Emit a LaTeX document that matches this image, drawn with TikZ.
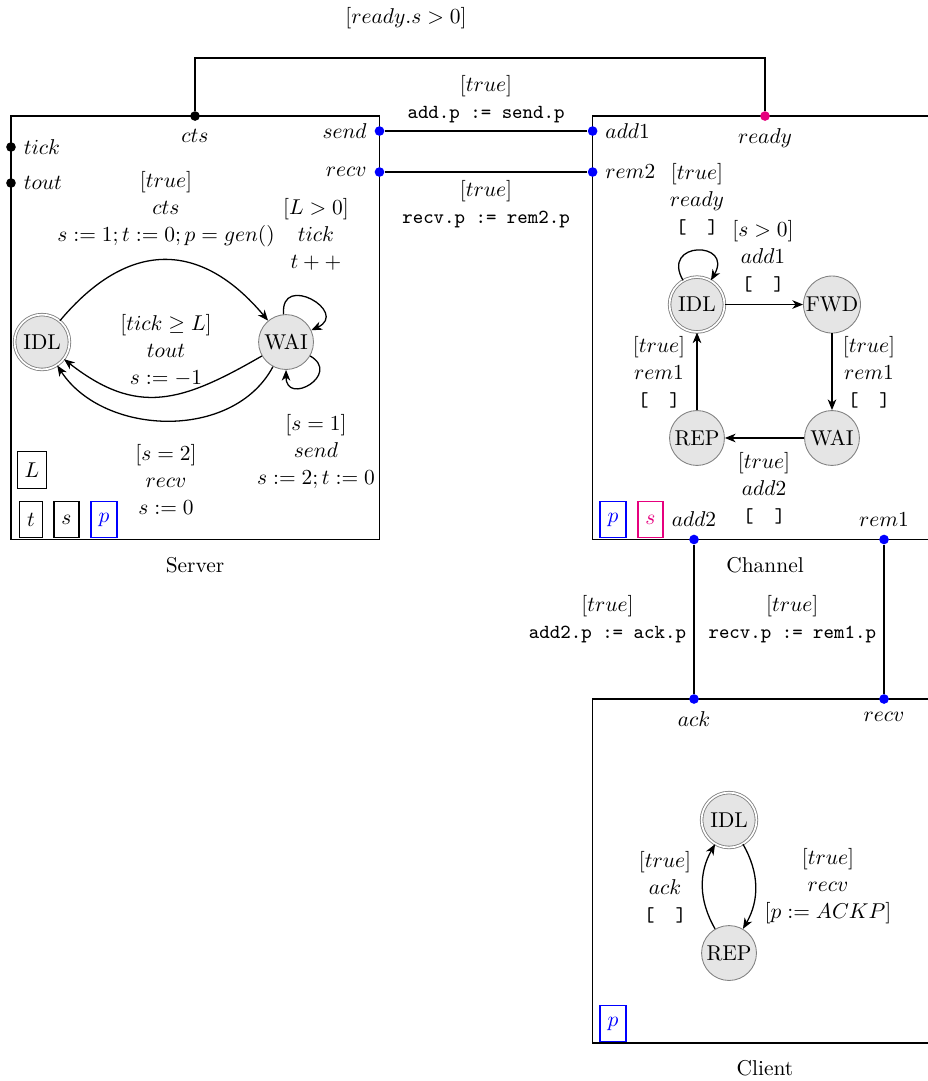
\documentclass[tikz,border=0pt]{standalone}
\usepackage{amsmath,amssymb}
\usepackage{xcolor}
\usetikzlibrary{arrows.meta,positioning}

\definecolor{readypink}{RGB}{230,0,126}
\newcommand{\code}[1]{{\fontsize{9.3}{11}\selectfont\texttt{#1}}}

\tikzset{
  state/.style={circle, draw=gray, fill=gray!20, minimum size=0.9cm, inner sep=0.5pt},
  init/.style={state, double=white, double distance=0.8pt},
  trans/.style={semithick, -{Stealth[length=5pt,width=4pt,inset=1.5pt]}},
  port/.style={circle, fill, inner sep=0pt, minimum size=4.5pt},
  bport/.style={port, fill=blue},
  var/.style={draw, semithick, inner xsep=3.5pt, inner ysep=0pt, minimum height=0.6cm},
  lbl/.style={align=center, font={\fontsize{10}{12.6}\selectfont}},
  comp/.style={thick},
  wire/.style={thick}
}

\begin{document}
\begin{tikzpicture}
  % page is 928x1081 px at 61 px/cm, channel and client run past the right edge
  \clip (0,0) rectangle (15.213,-17.721);

  % component boxes
  \draw[comp] (0.180,-1.902) rectangle (6.221,-8.844);
  \draw[comp] (9.715,-1.902) rectangle (15.36,-8.844);
  \draw[comp] (9.715,-11.459) rectangle (15.36,-17.098);
  \node (srvname) at (3.197,-9.262) {Server};
  \node (chname) at (12.541,-9.262) {Channel};
  \node (clname) at (12.541,-17.508) {Client};

  % ports of the server
  \node[port, label={below:$cts$}] (cts) at (3.197,-1.902) {};
  \node[port, label={right:$tick$}] (tick) at (0.180,-2.410) {};
  \node[port, label={right:$tout$}] (tout) at (0.180,-3.000) {};
  \node[bport, label={left:$send$}] (send) at (6.221,-2.148) {};
  \node[bport, label={left:$recv$}] (srecv) at (6.221,-2.820) {};
  % ports of the channel
  \node[bport, label={right:$add1$}] (add1) at (9.715,-2.148) {};
  \node[bport, label={right:$rem2$}] (rem2) at (9.715,-2.820) {};
  \node[port, fill=readypink, label={below:$ready$}] (ready) at (12.541,-1.902) {};
  \node[bport, label={above:$add2$}] (add2) at (11.377,-8.844) {};
  \node[bport, label={above:$rem1$}] (rem1) at (14.492,-8.844) {};
  % ports of the client
  \node[bport, label={below:$ack$}] (ack) at (11.377,-11.459) {};
  \node[bport, label={below:$recv$}] (crecv) at (14.492,-11.459) {};

  % wires
  \coordinate (topbend) at (3.197,-0.951);
  \draw[wire] (cts) -- (topbend) -| (ready);
  \node (rdyguard) at (6.656,-0.295) {$[ready.s > 0]$};
  \draw[wire] (send) -- node[lbl, above] (w1lbl) {$[true]$\\\code{add.p := send.p}} (add1);
  \draw[wire] (srecv) -- node[lbl, below] (w2lbl) {$[true]$\\\code{recv.p := rem2.p}} (rem2);
  \draw[wire] (add2) -- node[lbl, left] (w3lbl) {$[true]$\\\code{add2.p := ack.p}} (ack);
  \draw[wire] (rem1) -- node[lbl, left] (w4lbl) {$[true]$\\\code{recv.p := rem1.p}} (crecv);

  % server automaton
  \node[init] (sidl) at (0.689,-5.607) {IDL};
  \node[state] (swai) at (4.689,-5.607) {WAI};
  \draw[trans] (sidl) to[out=50,in=130,looseness=1.3] (swai);
  \draw[trans] (swai) to[out=210,in=-38,looseness=1.2] (sidl);
  \draw[trans] (swai) to[out=242,in=-57,looseness=1.0] (sidl);
  \draw[trans] (swai) to[out=95,in=25,min distance=7mm] (swai);
  \draw[trans] (swai) to[out=-30,in=-90,min distance=6mm] (swai);
  \node[lbl] (tcts) at (2.721,-3.426) {$[true]$\\$cts$\\$s := 1; t := 0; p = gen()$};
  \node[lbl] (ttick) at (5.180,-3.836) {$[L > 0]$\\$tick$\\$t++$};
  \node[lbl] (ttout) at (2.721,-5.738) {$[tick \geq L]$\\$tout$\\$s := -1$};
  \node[lbl] (tsend) at (5.180,-7.410) {$[s = 1]$\\$send$\\$s := 2; t := 0$};
  \node[lbl] (trecv) at (2.721,-7.852) {$[s = 2]$\\$recv$\\$s := 0$};
  \node[var] (sL) at (0.525,-7.705) {$L$};
  \node[var] (st) at (0.508,-8.516) {$t$};
  \node[var] (ss) at (1.090,-8.516) {$s$};
  \node[var, draw=blue, text=blue] (sp) at (1.705,-8.516) {$p$};

  % channel automaton
  \node[init] (cidl) at (11.426,-4.992) {IDL};
  \node[state] (cfwd) at (13.639,-4.992) {FWD};
  \node[state] (crep) at (11.426,-7.180) {REP};
  \node[state] (cwai) at (13.639,-7.180) {WAI};
  \draw[trans] (cidl) to[out=120,in=60,min distance=7.5mm] (cidl);
  \draw[trans] (cidl) -- (cfwd);
  \draw[trans] (cfwd) -- (cwai);
  \draw[trans] (cwai) -- (crep);
  \draw[trans] (crep) -- (cidl);
  \node[lbl] (tready) at (11.426,-3.262) {$[true]$\\$ready$\\\code{[\ \ ]}};
  \node[lbl] (tadd1) at (12.508,-4.197) {$[s > 0]$\\$add1$\\\code{[\ \ ]}};
  \node[lbl] (trem1a) at (14.246,-6.098) {$[true]$\\$rem1$\\\code{[\ \ ]}};
  \node[lbl] (tadd2) at (12.525,-8.000) {$[true]$\\$add2$\\\code{[\ \ ]}};
  \node[lbl] (trem1b) at (10.803,-6.098) {$[true]$\\$rem1$\\\code{[\ \ ]}};
  \node[var, draw=blue, text=blue] (cp) at (10.049,-8.516) {$p$};
  \node[var, draw=readypink, text=readypink] (cs) at (10.664,-8.516) {$s$};

  % client automaton
  \node[init] (kidl) at (11.951,-13.443) {IDL};
  \node[state] (krep) at (11.951,-15.623) {REP};
  \draw[trans] (kidl) to[bend left=30] (krep);
  \draw[trans] (krep) to[bend left=30] (kidl);
  \node[lbl] (tack) at (10.902,-14.541) {$[true]$\\$ack$\\\code{[\ \ ]}};
  \node[lbl] (tcrecv) at (13.574,-14.525) {$[true]$\\$recv$\\$[p := ACKP]$};
  \node[var, draw=blue, text=blue] (kp) at (10.049,-16.779) {$p$};
\end{tikzpicture}
\end{document}
